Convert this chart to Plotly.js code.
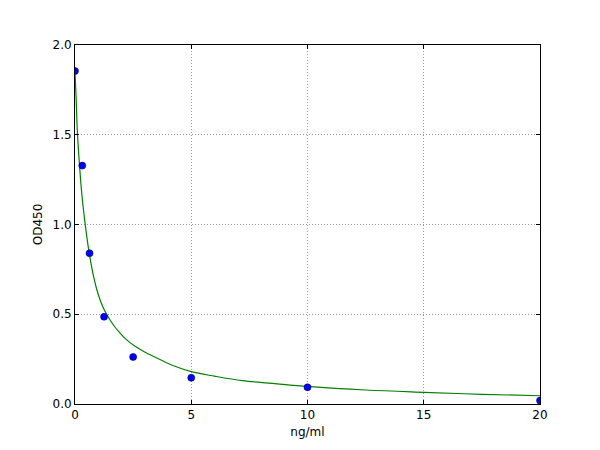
<!DOCTYPE html>
<html>
<head>
<meta charset="utf-8">
<script src="https://cdn.plot.ly/plotly-3.0.1.min.js"></script>
<style>
  html, body { margin: 0; padding: 0; background: #fff; }
  #chart { width: 600px; height: 450px; }
</style>
</head>
<body>
<div id="chart"></div>
<script>
// ── Data ─────────────────────────────────────────────────────────────────
// standard points (concentration ng/ml, OD450)
const stdConc = [0, 0.3125, 0.625, 1.25, 2.5, 5, 10, 20];
const stdOD   = [1.855, 1.328, 0.840, 0.486, 0.262, 0.146, 0.093, 0.019];

// fitted curve
const fitConc = [0, 0.05, 0.1, 0.2, 0.3, 0.45, 0.6, 0.8, 1.0, 1.2, 1.36, 1.6, 1.9, 2.2,
                 2.6, 3.0, 3.7, 4.3, 5.0, 6.0, 7.2, 8.5, 10, 12.5, 15, 17.5, 20];
const fitOD   = [1.85, 1.70, 1.52, 1.32, 1.16, 0.99, 0.85, 0.71, 0.61, 0.54, 0.50, 0.45, 0.40, 0.36,
                 0.32, 0.29, 0.245, 0.21, 0.18, 0.155, 0.13, 0.115, 0.098, 0.078, 0.065, 0.054, 0.046];

const xTicks = [0, 5, 10, 15, 20];
const yTicks = [0, 0.5, 1.0, 1.5, 2.0];

// ── Chart ────────────────────────────────────────────────────────────────
(function drawChart() {
  const traces = [
    {
      x: fitConc, y: fitOD,
      mode: 'lines',
      line: {color: '#008000', width: 1.2, shape: 'spline', smoothing: 1},
      hoverinfo: 'skip',
    },
    {
      x: stdConc, y: stdOD,
      mode: 'markers',
      marker: {color: '#0000ff', size: 7, line: {color: '#000066', width: 0.6}},
    },
  ];

  const axisBase = {
    showline: true,
    linecolor: '#000',
    linewidth: 1,
    mirror: 'ticks',
    ticks: 'inside',
    ticklen: 4,
    tickcolor: '#000',
    showgrid: true,
    gridcolor: '#999',
    gridwidth: 1,
    griddash: '1px,2px',
    zeroline: false,
    tickfont: {size: 12, color: '#000'},
  };

  const layout = {
    width: 600,
    height: 450,
    margin: {l: 75, r: 60, t: 45, b: 46},
    showlegend: false,
    paper_bgcolor: '#fff',
    plot_bgcolor: '#fff',
    font: {family: 'DejaVu Sans, sans-serif', size: 12, color: '#000'},
    xaxis: Object.assign({}, axisBase, {
      range: [0, 20],
      tickvals: xTicks,
      ticktext: xTicks.map(String),
      title: {text: 'ng/ml', standoff: 6, font: {size: 12}},
    }),
    yaxis: Object.assign({}, axisBase, {
      range: [0, 2.0],
      tickvals: yTicks,
      ticktext: yTicks.map(v => v.toFixed(1)),
      title: {text: 'OD450', standoff: 7, font: {size: 12}},
    }),
  };

  Plotly.newPlot('chart', traces, layout, {displayModeBar: false, staticPlot: true});
})();
</script>
</body>
</html>
